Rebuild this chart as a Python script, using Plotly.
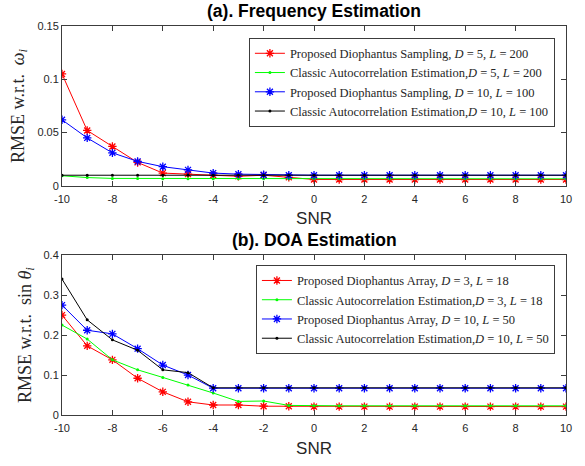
import plotly.graph_objects as go
from plotly.subplots import make_subplots

snr = list(range(-10, 11))
x_ticks = list(range(-10, 11, 2))
x_ticktext = [str(v) for v in x_ticks]  # plain hyphen minus as in reference

# (a) Frequency estimation
freq_prop_d5 = [0.105, 0.052, 0.037, 0.022, 0.012, 0.011, 0.010, 0.009, 0.010, 0.008,
                0.006, 0.006, 0.006, 0.006, 0.006, 0.006, 0.006, 0.006, 0.006, 0.006, 0.006]
freq_class_d5 = [0.0095, 0.0078, 0.0070, 0.0070, 0.0068, 0.0067, 0.0066, 0.0066, 0.0066, 0.0066,
                 0.0066, 0.0066, 0.0066, 0.0066, 0.0066, 0.0066, 0.0066, 0.0066, 0.0066, 0.0066, 0.0066]
freq_prop_d10 = [0.062, 0.045, 0.031, 0.023, 0.018, 0.015, 0.012, 0.011, 0.0105, 0.010,
                 0.010, 0.010, 0.010, 0.010, 0.010, 0.010, 0.010, 0.010, 0.010, 0.010, 0.010]
freq_class_d10 = [0.010] * 21

# (b) DOA estimation
doa_prop_d3 = [0.250, 0.173, 0.138, 0.092, 0.058, 0.033, 0.025, 0.025, 0.022, 0.022,
               0.021, 0.021, 0.021, 0.021, 0.021, 0.021, 0.021, 0.021, 0.021, 0.021, 0.021]
doa_class_d3 = [0.225, 0.190, 0.138, 0.113, 0.094, 0.075, 0.055, 0.034, 0.035, 0.024,
                0.023, 0.023, 0.023, 0.023, 0.023, 0.023, 0.023, 0.023, 0.023, 0.023, 0.023]
doa_prop_d10 = [0.275, 0.212, 0.203, 0.166, 0.125, 0.100, 0.067, 0.067, 0.067, 0.067,
                0.067, 0.067, 0.067, 0.067, 0.067, 0.067, 0.067, 0.067, 0.067, 0.067, 0.067]
doa_class_d10 = [0.340, 0.238, 0.188, 0.162, 0.113, 0.106, 0.068, 0.068, 0.068, 0.068,
                 0.068, 0.068, 0.068, 0.068, 0.068, 0.068, 0.068, 0.068, 0.068, 0.068, 0.068]

names_a = [
    "Proposed Diophantus Sampling, <i>D</i> = 5, <i>L</i> = 200",
    "Classic Autocorrelation Estimation,<i>D</i> = 5, <i>L</i> = 200",
    "Proposed Diophantus Sampling, <i>D</i> = 10, <i>L</i> = 100",
    "Classic Autocorrelation Estimation,<i>D</i> = 10, <i>L</i> = 100",
]
names_b = [
    "Proposed Diophantus Array, <i>D</i> = 3, <i>L</i> = 18",
    "Classic Autocorrelation Estimation,<i>D</i> = 3, <i>L</i> = 18",
    "Proposed Diophantus Array, <i>D</i> = 10, <i>L</i> = 50",
    "Classic Autocorrelation Estimation,<i>D</i> = 10, <i>L</i> = 50",
]

colors = ["#ff0000", "#00ff00", "#0000ff", "#000000"]
is_star = [True, False, True, False]

SERIF = "Liberation Serif, Times New Roman, serif"
SANS = "Liberation Sans, Arial, sans-serif"
AX = "#3c3c3c"


def marker_for(i):
    if is_star[i]:
        return dict(symbol="asterisk-open", size=7, color=colors[i],
                    line=dict(width=1.3, color=colors[i]))
    return dict(symbol="circle", size=3, color=colors[i])


fig = make_subplots(rows=2, cols=1)

for i, ys in enumerate([freq_prop_d5, freq_class_d5, freq_prop_d10, freq_class_d10]):
    fig.add_trace(go.Scatter(x=snr, y=ys, mode="lines+markers", name=names_a[i],
                             line=dict(color=colors[i], width=1), marker=marker_for(i),
                             legend="legend"), row=1, col=1)

for i, ys in enumerate([doa_prop_d3, doa_class_d3, doa_prop_d10, doa_class_d10]):
    fig.add_trace(go.Scatter(x=snr, y=ys, mode="lines+markers", name=names_b[i],
                             line=dict(color=colors[i], width=1), marker=marker_for(i),
                             legend="legend2"), row=2, col=1)

axis_common = dict(showline=True, linecolor=AX, linewidth=1, mirror="ticks",
                   ticks="inside", ticklen=5, tickcolor=AX, showgrid=False,
                   zeroline=False, tickfont=dict(family=SANS, size=11, color="#262626"))

snr_title = dict(text="SNR", font=dict(family=SANS, size=17, color="#262626"), standoff=8)
fig.update_xaxes(range=[-10, 10], tickvals=x_ticks, ticktext=x_ticktext,
                 ticklabelstandoff=3, title=snr_title, **axis_common)
fig.update_yaxes(range=[0, 0.15], tickvals=[0, 0.05, 0.1, 0.15], ticktext=["0", "0.05", "0.1", "0.15"],
                 title=dict(text="RMSE w.r.t.  <i>ω<sub>i</sub></i>",
                            font=dict(family=SERIF, size=18, color="#262626"), standoff=8),
                 row=1, col=1, **axis_common)
fig.update_yaxes(range=[0, 0.4], tickvals=[0, 0.1, 0.2, 0.3, 0.4], ticktext=["0", "0.1", "0.2", "0.3", "0.4"],
                 title=dict(text="RMSE w.r.t.  sin <i>θ<sub>i</sub></i>",
                            font=dict(family=SERIF, size=18, color="#262626"), standoff=7),
                 row=2, col=1, **axis_common)

fig.update_layout(
    width=585, height=466,
    margin=dict(l=62, r=19, t=26, b=46),
    plot_bgcolor="white", paper_bgcolor="white",
    font=dict(family=SERIF),
    xaxis=dict(domain=[0, 1]), yaxis=dict(domain=[0.589, 1.0]),
    xaxis2=dict(domain=[0, 1]), yaxis2=dict(domain=[0.0, 0.411]),
    legend=dict(x=0.978, y=0.97, xanchor="right", yanchor="top",
                bgcolor="white", bordercolor=AX, borderwidth=1,
                font=dict(family=SERIF, size=12.5, color="#262626"),
                tracegroupgap=0, itemwidth=30),
    legend2=dict(x=0.978, y=0.386, xanchor="right", yanchor="top",
                 bgcolor="white", bordercolor=AX, borderwidth=1,
                 font=dict(family=SERIF, size=12.5, color="#262626"),
                 tracegroupgap=0, itemwidth=30),
    annotations=[
        dict(text="<b>(a). Frequency Estimation</b>", x=0.5, y=1.0, xref="paper", yref="paper",
             xanchor="center", yanchor="bottom", yshift=3, showarrow=False,
             font=dict(family=SANS, size=17.5, color="black")),
        dict(text="<b>(b). DOA Estimation</b>", x=0.5, y=0.411, xref="paper", yref="paper",
             xanchor="center", yanchor="bottom", yshift=3, showarrow=False,
             font=dict(family=SANS, size=17.5, color="black")),
    ],
)

# remove the browser's default 8px page margin so the figure sits at the window's corner
fig.write_html("out.html", config={"displayModeBar": False},
               post_script="document.body.style.margin='0';")
